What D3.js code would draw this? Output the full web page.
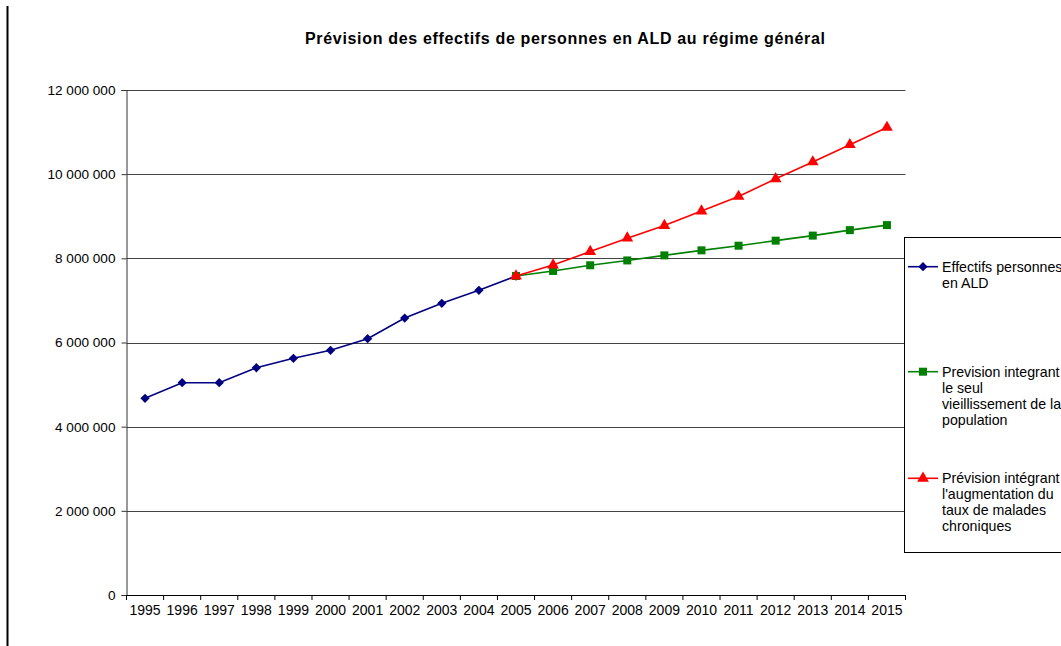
<!DOCTYPE html>
<html><head><meta charset="utf-8">
<script src="https://cdn.jsdelivr.net/npm/d3@7"></script>
<style>body{margin:0;background:#fff}svg{display:block}text{font-family:"Liberation Sans",Arial,sans-serif}</style>
</head><body>
<svg id="c" width="1061" height="646"></svg>
<script>
const years = ["1995","1996","1997","1998","1999","2000","2001","2002","2003","2004","2005","2006","2007","2008","2009","2010","2011","2012","2013","2014","2015"];
const effectifs = [4674000,5045000,5045000,5400000,5625000,5815000,6090000,6580000,6930000,7240000,7580000];
const effectifsYears = years.slice(0,11);
const previsionVieillissement = [7580000,7700000,7835000,7950000,8070000,8190000,8300000,8420000,8540000,8670000,8790000];
const previsionTaux = [7580000,7840000,8160000,8480000,8780000,9125000,9470000,9890000,10290000,10700000,11110000];
const forecastYears = years.slice(10);
const yTicks = [0,2000000,4000000,6000000,8000000,10000000,12000000];
const title = "Prévision des effectifs de personnes en ALD au régime général";
const legendItems = [
  {lines:["Effectifs personnes","en ALD"], color:"#000080", shape:"diamond"},
  {lines:["Prevision integrant","le seul","vieillissement de la","population"], color:"#008000", shape:"square"},
  {lines:["Prévision intégrant","l'augmentation du","taux de malades","chroniques"], color:"#ff0000", shape:"triangle"}
];

const svg = d3.select("#c");
const L=126.5, R=905.5, T=90, B=595;
const x = d3.scaleBand().domain(years).range([L,R]);
const y = d3.scaleLinear().domain([0,12000000]).range([B,T]);
const fmt = v => d3.format(",")(v).replace(/,/g," ");

// left border line
svg.append("line").attr("x1",7.5).attr("x2",7.5).attr("y1",6).attr("y2",646).attr("stroke","#000").attr("stroke-width",2);

// gridlines
svg.append("g").selectAll("line").data(yTicks.filter(d=>d>0)).join("line")
  .attr("x1",L).attr("x2",R).attr("y1",d=>Math.round(y(d))+0.5).attr("y2",d=>Math.round(y(d))+0.5)
  .attr("stroke","#444").attr("stroke-width",1);

// y axis
const ya = svg.append("g").attr("transform",`translate(${L},0)`)
  .call(d3.axisLeft(y).tickValues(yTicks).tickFormat(fmt).tickSize(5).tickPadding(6));
ya.selectAll("text").attr("font-size",13.6).attr("fill","#000").style("font-family","'Liberation Sans',Arial,sans-serif");
ya.selectAll("line,path").attr("stroke","#333");

// x axis
const xa = svg.append("g").attr("transform",`translate(0,${B})`)
  .call(d3.axisBottom(x).tickSize(0).tickPadding(10));
xa.selectAll("text").attr("font-size",14).attr("fill","#000").style("font-family","'Liberation Sans',Arial,sans-serif");
xa.select("path").attr("stroke","#000");
xa.append("g").selectAll("line").data(d3.range(years.length+1)).join("line")
  .attr("x1",i=>L+i*x.step()).attr("x2",i=>L+i*x.step()).attr("y1",0).attr("y2",5).attr("stroke","#000");

const cx = d => x(d)+x.bandwidth()/2;
const line = d3.line().x(d=>cx(d[0])).y(d=>y(d[1]));
const symbolFor = shape => shape==="diamond"? d3.symbol().type(d3.symbolDiamond2).size(55)
            : shape==="square"? d3.symbol().type(d3.symbolSquare).size(64)
            : d3.symbol().type(d3.symbolTriangle).size(60);

function drawSeries(ys, vals, color, shape){
  const data = ys.map((yr,i)=>[yr,vals[i]]);
  svg.append("path").datum(data).attr("d",line).attr("fill","none").attr("stroke",color).attr("stroke-width",1.6);
  svg.append("g").selectAll("path").data(data).join("path")
    .attr("transform",d=>`translate(${cx(d[0])},${y(d[1])})`).attr("d",symbolFor(shape)).attr("fill",color);
}
drawSeries(effectifsYears, effectifs, "#000080", "diamond");
drawSeries(forecastYears, previsionVieillissement, "#008000", "square");
drawSeries(forecastYears, previsionTaux, "#ff0000", "triangle");

// title
svg.append("text").attr("x",565).attr("y",44).attr("text-anchor","middle").attr("font-size",16)
  .attr("font-weight","bold").attr("textLength",520).attr("lengthAdjust","spacing").text(title);

// legend
svg.append("rect").attr("x",904.5).attr("y",237.5).attr("width",170).attr("height",315).attr("fill","#fff").attr("stroke","#000");
const legY = [266.7, 371.7, 478.3];
legendItems.forEach((it,i)=>{
  const g = svg.append("g").attr("transform",`translate(0,${legY[i]})`);
  g.append("line").attr("x1",908).attr("x2",938).attr("y1",0).attr("y2",0).attr("stroke",it.color).attr("stroke-width",1.6);
  g.append("path").attr("transform","translate(923,0)").attr("d",symbolFor(it.shape)).attr("fill",it.color);
  const t = g.append("text").attr("x",942).attr("y",5).attr("font-size",14.2);
  it.lines.forEach((ln,j)=>t.append("tspan").attr("x",942).attr("dy",j===0?0:16).text(ln));
});
</script>
</body></html>
